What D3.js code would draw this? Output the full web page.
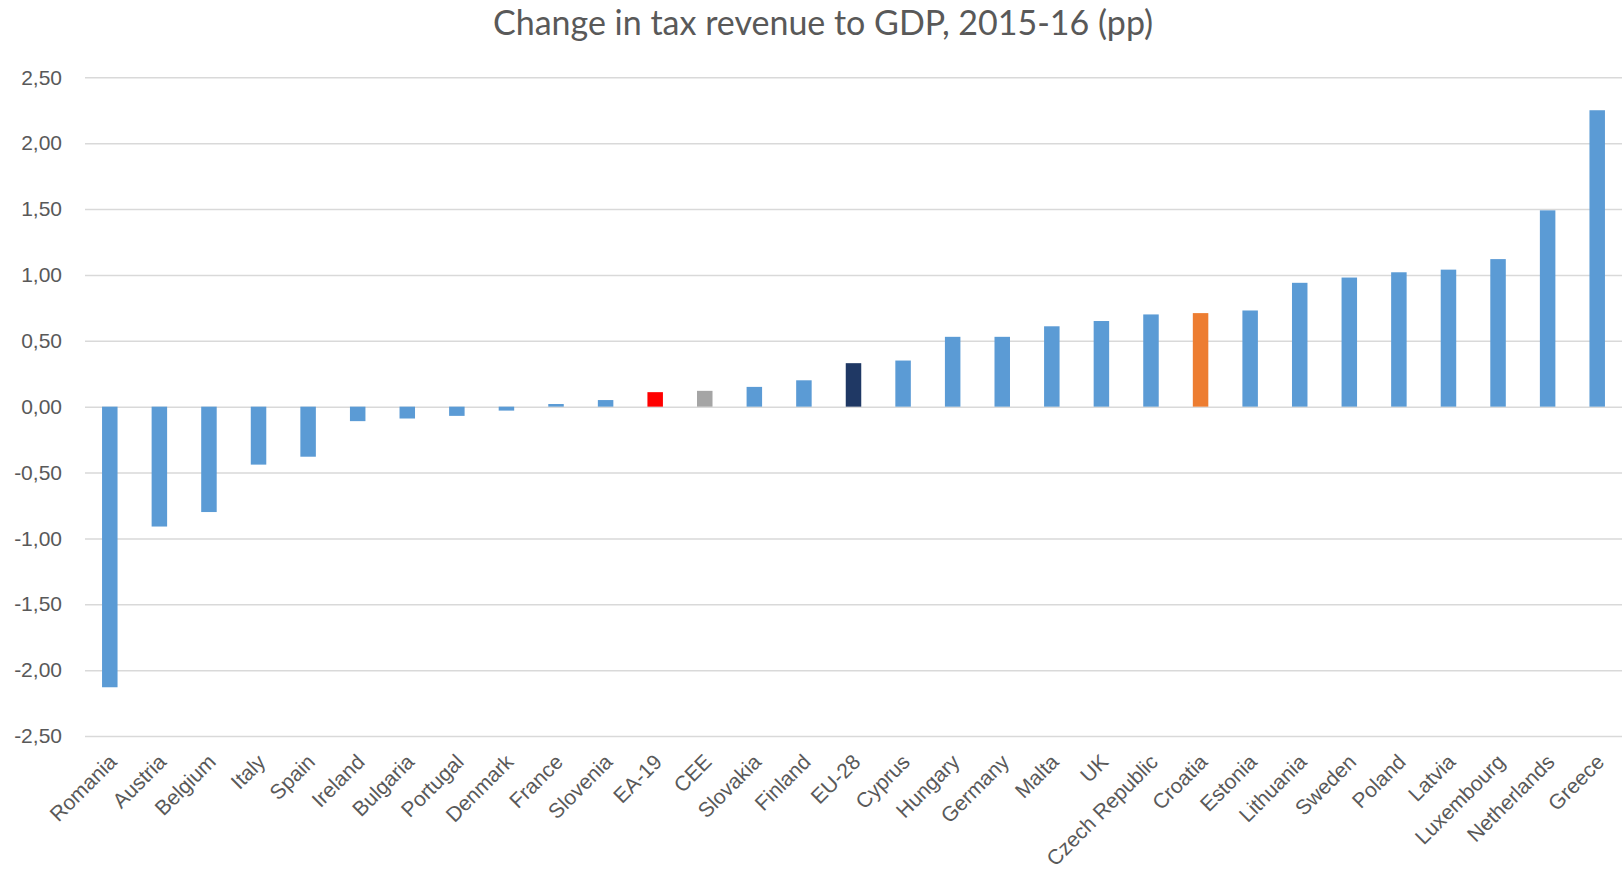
<!DOCTYPE html>
<html>
<head>
<meta charset="utf-8">
<script src="https://cdn.jsdelivr.net/npm/d3@7"></script>
<style>
  html, body { margin: 0; padding: 0; background: #fff; }
  svg { display: block; font-family: Lato, "Open Sans", sans-serif; }
</style>
</head>
<body>
<svg id="chart" width="1623" height="870"></svg>
<script>
// Change in tax revenue to GDP between 2015 and 2016, percentage points
const categories = [
  "Romania", "Austria", "Belgium", "Italy", "Spain", "Ireland", "Bulgaria",
  "Portugal", "Denmark", "France", "Slovenia", "EA-19", "CEE", "Slovakia",
  "Finland", "EU-28", "Cyprus", "Hungary", "Germany", "Malta", "UK",
  "Czech Republic", "Croatia", "Estonia", "Lithuania", "Sweden", "Poland",
  "Latvia", "Luxembourg", "Netherlands", "Greece"
];
const values = [
  -2.13, -0.91, -0.80, -0.44, -0.38, -0.11, -0.09,
  -0.07, -0.03, 0.02, 0.05, 0.11, 0.12, 0.15,
  0.20, 0.33, 0.35, 0.53, 0.53, 0.61, 0.65,
  0.70, 0.71, 0.73, 0.94, 0.98, 1.02,
  1.04, 1.12, 1.49, 2.25
];
const yTicks = [-2.5, -2, -1.5, -1, -0.5, 0, 0.5, 1, 1.5, 2, 2.5];
const titleText = "Change in tax revenue to GDP, 2015-16 (pp)";

// Aggregates and the highlighted country get their own colours
const defaultColor = "#5B9BD5";
const specialColors = {
  "EA-19": "#FF0000",
  "CEE": "#A5A5A5",
  "EU-28": "#1F3864",
  "Croatia": "#ED7D31"
};

const svg = d3.select("#chart");
const textColor = "#595959";
const plot = { left: 85, right: 1622, top: 77.3, bottom: 736 };

const x = d3.scaleBand()
  .domain(categories)
  .range([plot.left, plot.right])
  .paddingInner(0.6875)
  .paddingOuter(0.34375);

const y = d3.scaleLinear()
  .domain([-2.5, 2.5])
  .range([plot.bottom, plot.top]);

const locale = d3.formatLocale({ decimal: ",", thousands: ".", grouping: [3], currency: ["", "€"], minus: "-" });
const fmt = locale.format(".2f");

// Title
svg.append("text")
  .attr("x", 823)
  .attr("y", 35)
  .attr("text-anchor", "middle")
  .attr("fill", textColor)
  .style("font-size", "34px")
  .text(titleText);

// Horizontal gridlines and value labels
const yAxis = d3.axisLeft(y)
  .tickValues(yTicks)
  .tickFormat(fmt)
  .tickSize(-(plot.right - plot.left))
  .tickPadding(23);

const gy = svg.append("g")
  .attr("transform", `translate(${plot.left},0)`)
  .call(yAxis);
gy.select(".domain").remove();
gy.selectAll(".tick line")
  .attr("stroke", "#D9D9D9")
  .attr("stroke-width", 1.5);
gy.selectAll(".tick text")
  .attr("fill", textColor)
  .style("font-size", "21px");

// Bars
svg.append("g")
  .selectAll("rect")
  .data(categories.map((c, i) => ({ c, v: values[i] })))
  .join("rect")
  .attr("x", d => x(d.c))
  .attr("width", x.bandwidth())
  .attr("y", d => y(Math.max(0, d.v)))
  .attr("height", d => Math.abs(y(d.v) - y(0)))
  .attr("fill", d => specialColors[d.c] || defaultColor);

// Category labels, rotated
const xAxis = d3.axisBottom(x).tickSize(0).tickPadding(0);
const gx = svg.append("g")
  .attr("transform", `translate(0,${plot.bottom})`)
  .call(xAxis);
gx.select(".domain").remove();
gx.selectAll(".tick text")
  .attr("fill", textColor)
  .style("font-size", "21px")
  .attr("text-anchor", "end")
  .attr("x", 0)
  .attr("y", 0)
  .attr("dy", "0.35em")
  .attr("transform", "translate(3,22) rotate(-45)");
</script>
</body>
</html>
